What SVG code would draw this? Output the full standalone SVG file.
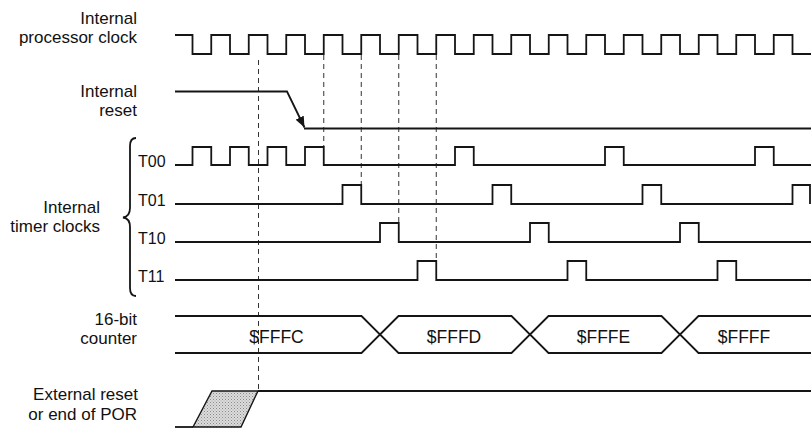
<svg xmlns="http://www.w3.org/2000/svg" width="812" height="430" viewBox="0 0 812 430">
<style>
.lbl{font-family:"Liberation Sans",Arial,sans-serif;font-size:17px;fill:#111;text-anchor:end}
.tl{font-family:"Liberation Sans",Arial,sans-serif;font-size:16px;fill:#111;text-anchor:start}
.val{font-family:"Liberation Sans",Arial,sans-serif;font-size:17.5px;fill:#111;text-anchor:middle}
.sig{fill:none;stroke:#151515;stroke-width:1.8;stroke-linejoin:miter}
.dash{fill:none;stroke:#333;stroke-width:1;stroke-dasharray:5,4}
</style>
<defs>
<marker id="ah" markerUnits="userSpaceOnUse" markerWidth="11" markerHeight="9" refX="11" refY="4.5" orient="auto">
<path d="M0,0 L11,4.5 L0,9 z" fill="#151515"/>
</marker>
<pattern id="stip" width="3" height="3" patternUnits="userSpaceOnUse">
<rect width="3" height="3" fill="#dcdcdc"/>
<rect width="1" height="1" fill="#8a8a8a"/>
<rect x="1.5" y="1.5" width="1" height="1" fill="#a0a0a0"/>
</pattern>
</defs>
<rect width="812" height="430" fill="#fff"/>

<g id="connectors">
<line class="dash" x1="258.5" y1="60" x2="258.5" y2="391"/>
<line class="dash" x1="323.75" y1="55" x2="323.75" y2="147"/>
<line class="dash" x1="361.25" y1="55" x2="361.25" y2="185"/>
<line class="dash" x1="398.75" y1="55" x2="398.75" y2="223"/>
<line class="dash" x1="436.25" y1="55" x2="436.25" y2="261"/>
</g>

<g id="proc-clock">
<text class="lbl" x="137" y="24">Internal</text>
<text class="lbl" x="137" y="43">processor clock</text>
<path class="sig" d="M175,35 H192.5 V54 H211.25 V35 H230 V54 H248.75 V35 H267.5 V54 H286.25 V35 H305 V54 H323.75 V35 H342.5 V54 H361.25 V35 H380 V54 H398.75 V35 H417.5 V54 H436.25 V35 H455 V54 H473.75 V35 H492.5 V54 H511.25 V35 H530 V54 H548.75 V35 H567.5 V54 H586.25 V35 H605 V54 H623.75 V35 H642.5 V54 H661.25 V35 H680 V54 H698.75 V35 H717.5 V54 H736.25 V35 H755 V54 H773.75 V35 H792.5 V54 H811"/>
</g>

<g id="internal-reset">
<text class="lbl" x="137" y="97">Internal</text>
<text class="lbl" x="137" y="116">reset</text>
<path class="sig" d="M175,91.5 H287 L304.5,127.5" marker-end="url(#ah)"/>
<path class="sig" d="M304,128.5 H811"/>
</g>

<g id="timer-clocks">
<text class="lbl" x="100" y="213">Internal</text>
<text class="lbl" x="100" y="232">timer clocks</text>
<path class="sig" d="M136,138 Q130,138 130,146 V208 Q130,216.5 123,217.5 Q130,218.5 130,227 V288 Q130,296 136,296" stroke-width="1.4"/>
</g>

<g id="T00">
<text class="tl" x="138" y="167">T00</text>
<path class="sig" d="M175,165 H192.5 V147 H211.25 V165 H230 V147 H248.75 V165 H267.5 V147 H286.25 V165 H305 V147 H323.75 V165 H455 V147 H473.75 V165 H605 V147 H623.75 V165 H755 V147 H773.75 V165 H811"/>
</g>

<g id="T01">
<text class="tl" x="138" y="206">T01</text>
<path class="sig" d="M175,204 H342.5 V185 H361.25 V204 H492.5 V185 H511.25 V204 H642.5 V185 H661.25 V204 H792.5 V185 H810 V204"/>
</g>

<g id="T10">
<text class="tl" x="138" y="244">T10</text>
<path class="sig" d="M175,242 H380 V223 H398.75 V242 H530 V223 H548.75 V242 H680 V223 H698.75 V242 H811"/>
</g>

<g id="T11">
<text class="tl" x="138" y="282">T11</text>
<path class="sig" d="M175,280 H417.5 V261 H436.25 V280 H567.5 V261 H586.25 V280 H717.5 V261 H736.25 V280 H811"/>
</g>

<g id="counter">
<text class="lbl" x="137" y="325">16-bit</text>
<text class="lbl" x="137" y="344">counter</text>
<path class="sig" d="M175,316 H361.5 L380,334.5 L361.5,353 H175"/>
<path class="sig" d="M380,334.5 L398.5,316 H511.5 L530,334.5 L511.5,353 H398.5 Z"/>
<path class="sig" d="M530,334.5 L548.5,316 H661.5 L680,334.5 L661.5,353 H548.5 Z"/>
<path class="sig" d="M811,316 H698.5 L680,334.5 L698.5,353 H811"/>
<text class="val" x="276.5" y="343">$FFFC</text>
<text class="val" x="454" y="343">$FFFD</text>
<text class="val" x="603.5" y="343">$FFFE</text>
<text class="val" x="744" y="343">$FFFF</text>
</g>

<g id="external-reset">
<text class="lbl" x="138" y="400">External reset</text>
<text class="lbl" x="137" y="420">or end of POR</text>
<polygon points="193,427 212,391 258,391 241,427" fill="url(#stip)" stroke="#151515" stroke-width="1.4"/>
<path class="sig" d="M175,427 H193"/>
<path class="sig" d="M258,391 H811"/>
</g>
</svg>
